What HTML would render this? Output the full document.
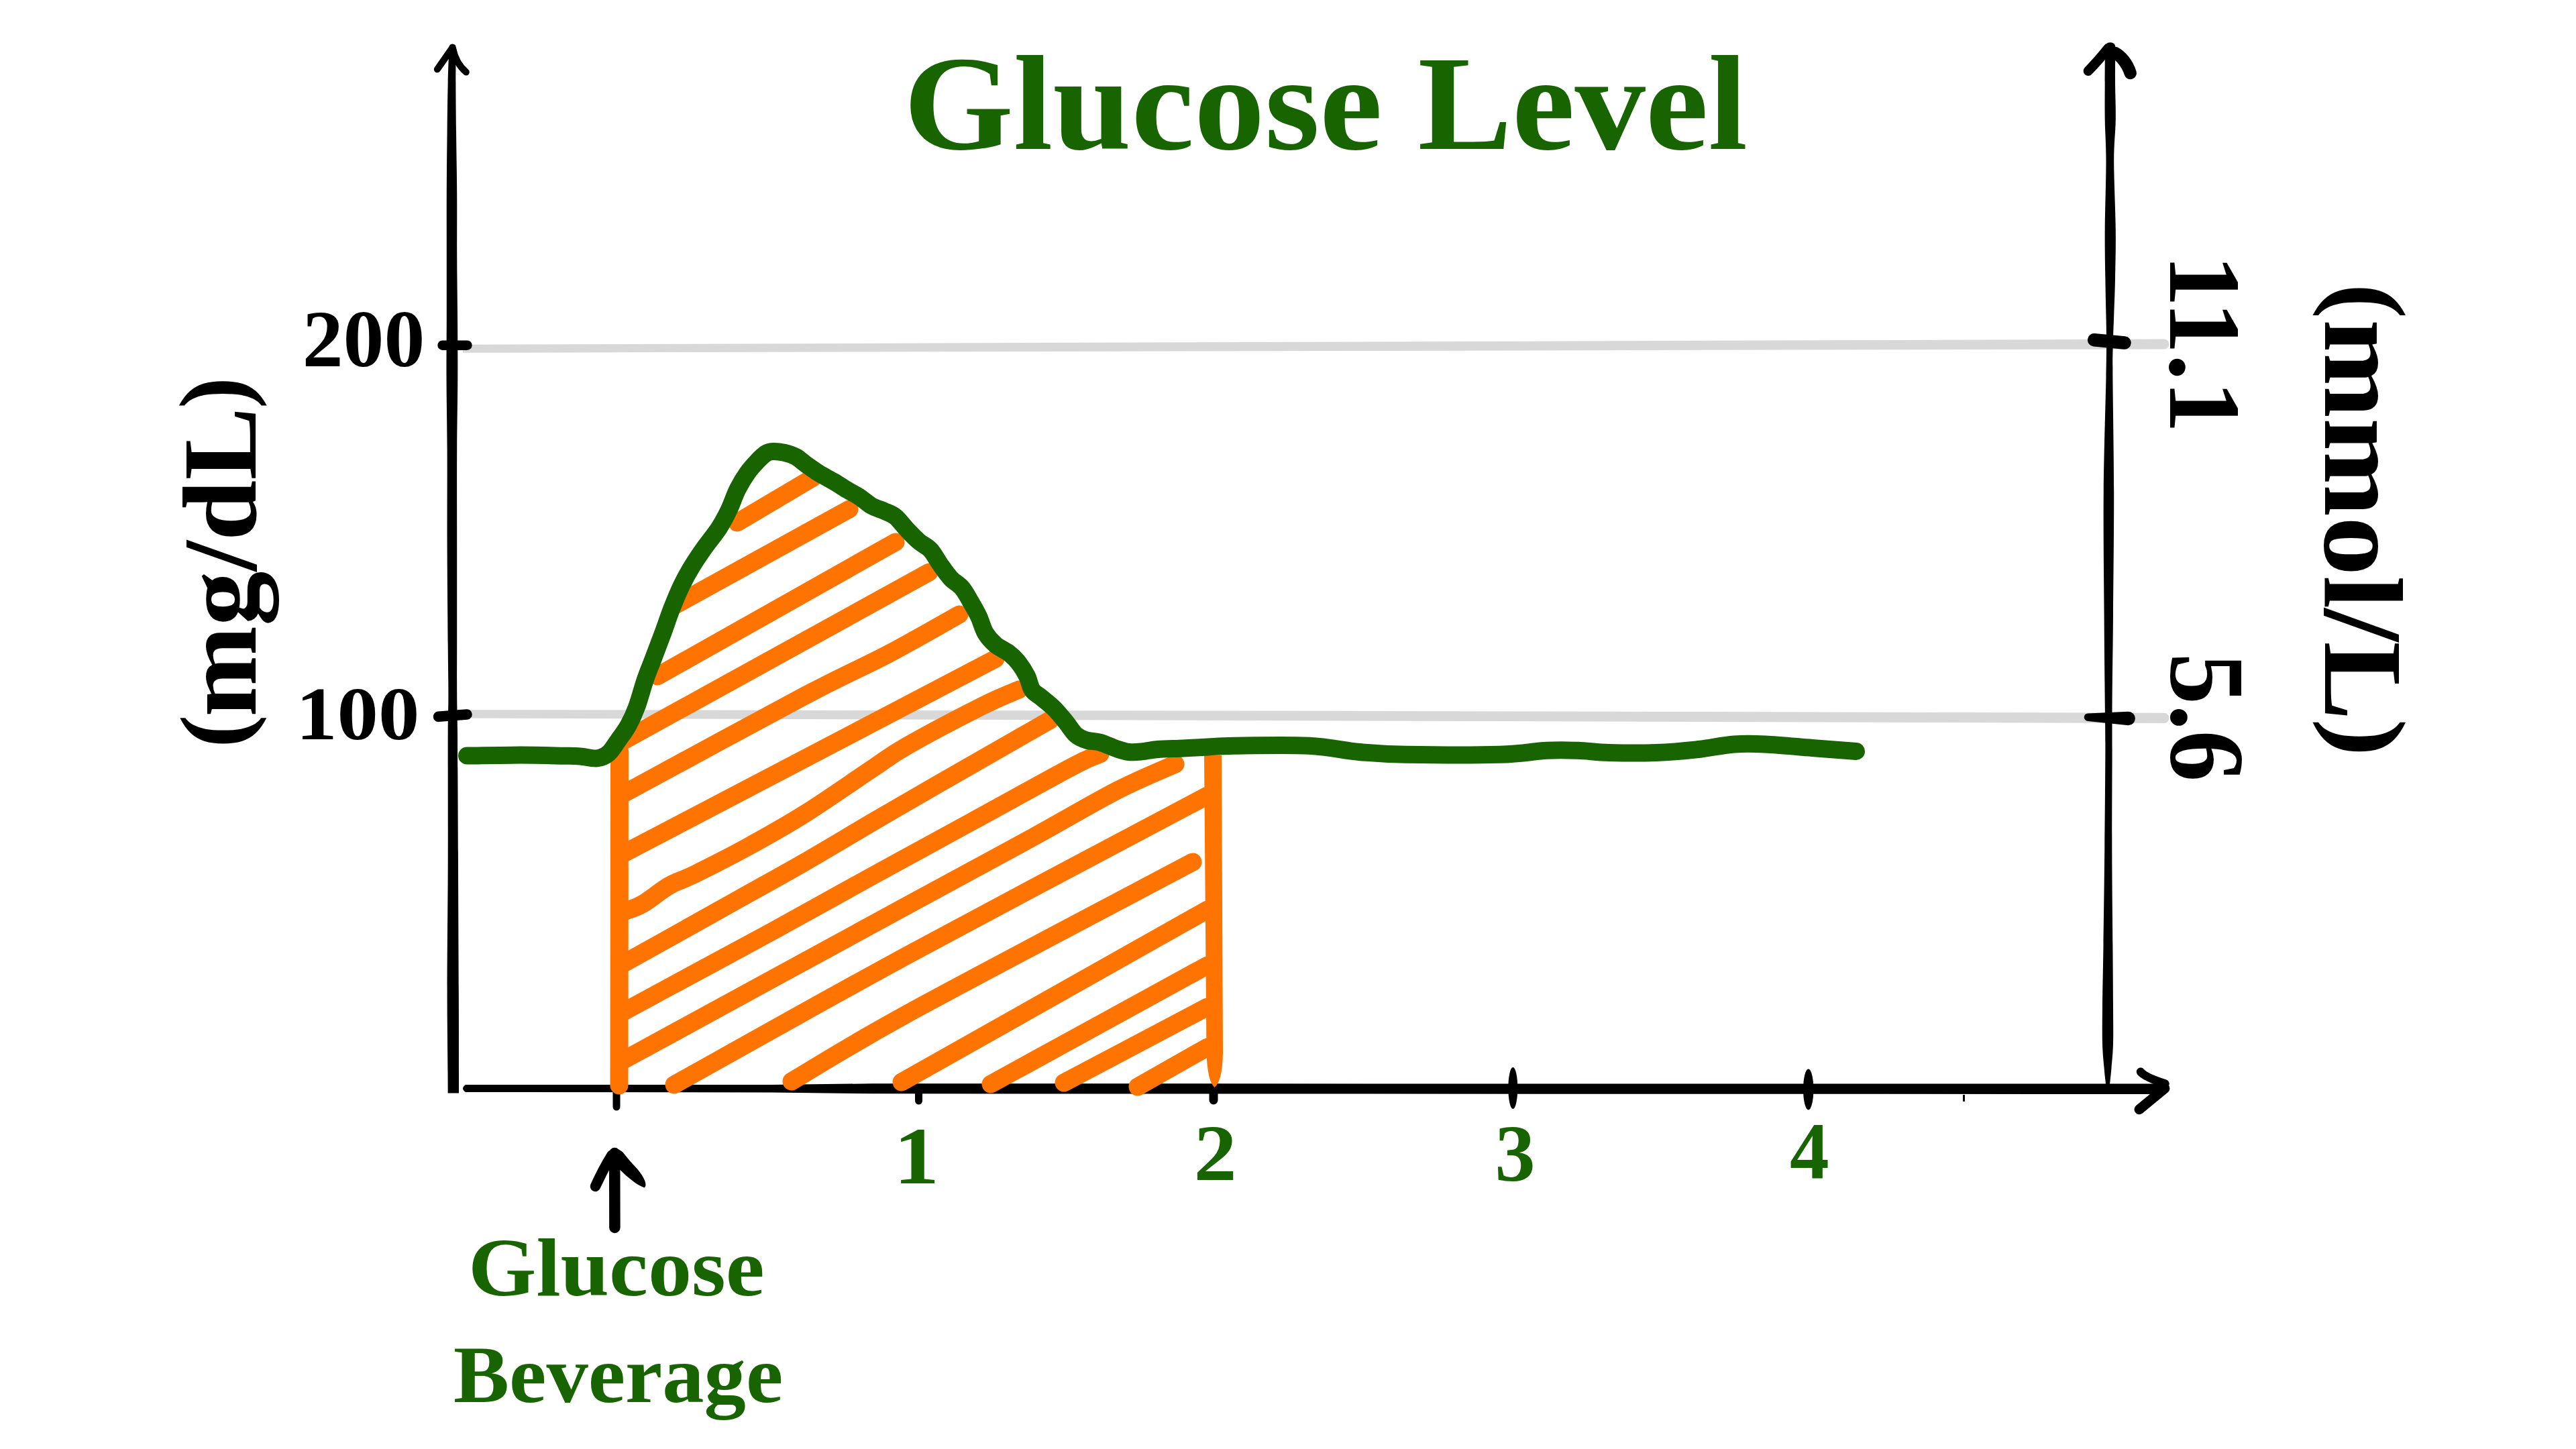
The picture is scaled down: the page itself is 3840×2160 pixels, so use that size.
<!DOCTYPE html>
<html><head><meta charset="utf-8"><title>Glucose Level</title>
<style>
html,body{margin:0;padding:0;background:#fff;}
body{width:3840px;height:2160px;overflow:hidden;}
svg{display:block;}
text{font-family:"Liberation Serif",serif;font-weight:bold;}
</style></head><body>
<svg width="3840" height="2160" viewBox="0 0 3840 2160">
<rect width="3840" height="2160" fill="#fff"/>
<path d="M690 513.8 L3226 505.6 A7.4 7.4 0 0 1 3226 520.4 L690 525.8 Z" fill="#D8D8D8"/>
<path d="M690 1058.2 L2000 1059.8 L3226 1062.7 A7.6 7.6 0 0 1 3226 1077.9 L2000 1074.4 L690 1070.6 Z" fill="#D8D8D8"/>
<path d="M679.8 72.0 C679.7 80.5 679.4 102.3 679.4 123.0 C679.4 143.7 679.7 168.5 680.0 196.0 C680.3 223.5 681.0 257.5 681.2 288.0 C681.4 318.5 681.1 348.5 681.2 379.0 C681.3 409.5 681.8 440.8 682.0 471.0 C682.2 501.2 682.4 526.8 682.3 560.0 C682.2 593.2 681.4 627.3 681.2 670.0 C681.0 712.7 681.2 767.3 681.2 816.0 C681.2 864.7 681.2 925.5 681.2 962.0 C681.2 998.5 681.1 1013.7 681.2 1035.0 C681.3 1056.3 681.8 1071.3 682.0 1090.0 C682.2 1108.7 682.1 1113.2 682.3 1147.0 C682.5 1180.8 682.8 1238.2 683.0 1293.0 C683.2 1347.8 683.6 1424.8 683.8 1476.0 C684.0 1527.2 684.0 1574.4 684.0 1600.0 C684.0 1625.6 684.0 1624.6 684.0 1629.5 L667.6 1629.5 L667.6 1629.5 C667.6 1624.6 667.7 1625.6 667.5 1600.0 C667.3 1574.4 666.6 1527.2 666.6 1476.0 C666.6 1424.8 667.5 1347.8 667.7 1293.0 C667.9 1238.2 667.7 1180.8 667.7 1147.0 C667.7 1113.2 667.6 1108.7 667.7 1090.0 C667.8 1071.3 668.4 1056.3 668.4 1035.0 C668.4 1013.7 668.0 998.5 667.7 962.0 C667.4 925.5 666.8 864.7 666.6 816.0 C666.4 767.3 666.8 712.7 666.6 670.0 C666.4 627.3 665.6 593.2 665.5 560.0 C665.4 526.8 665.8 501.2 665.8 471.0 C665.8 440.8 665.8 409.5 665.8 379.0 C665.8 348.5 665.7 318.5 665.8 288.0 C665.9 257.5 666.3 223.5 666.6 196.0 C666.9 168.5 667.2 143.7 667.7 123.0 C668.2 102.3 669.0 80.5 669.3 72.0 Q669.3 65.6 674.5 65.6 Q679.8 65.6 679.8 72 Z" fill="#000"/>
<path d="M673.8 72 L651.8 103.3" stroke="#000" stroke-width="10" stroke-linecap="round" fill="none"/>
<path d="M675.3 73 Q679.5 94 694.8 107.6" stroke="#000" stroke-width="10" stroke-linecap="round" fill="none"/>
<path d="M694 1617 L1150 1617 L1300 1615.3 L3226 1615.6 L3226 1631 L1300 1630.3 L1150 1628.5 L694 1628 Q686 1622.5 694 1617 Z" fill="#000"/>
<path d="M3191 1597.7 C3195 1603 3205 1608 3227.5 1615.5" stroke="#000" stroke-width="12.5" stroke-linecap="round" fill="none"/>
<path d="M3189 1653.7 L3227 1622.5" stroke="#000" stroke-width="15" stroke-linecap="round" fill="none"/>
<path d="M2927.5 1632 L2927.5 1642" stroke="#000" stroke-width="3"/>
<path d="M3153.4 71.0 C3153.3 79.7 3152.9 105.2 3153.0 123.0 C3153.1 140.8 3154.1 158.5 3153.8 178.0 C3153.5 197.5 3151.2 212.5 3151.2 240.0 C3151.2 267.5 3153.5 313.7 3153.8 343.0 C3154.1 372.3 3153.4 394.7 3153.0 416.0 C3152.6 437.3 3151.7 455.8 3151.2 471.0 C3150.7 486.2 3150.3 491.8 3150.0 507.0 C3149.7 522.2 3149.2 524.3 3149.4 562.0 C3149.6 599.7 3151.1 674.0 3151.2 733.0 C3151.3 792.0 3150.4 864.2 3150.0 916.0 C3149.6 967.8 3148.8 1010.5 3148.6 1044.0 C3148.4 1077.5 3148.6 1080.5 3148.6 1117.0 C3148.6 1153.5 3148.2 1214.3 3148.3 1263.0 C3148.4 1311.7 3149.1 1369.5 3149.4 1409.0 C3149.7 1448.5 3149.9 1475.5 3150.0 1500.0 C3150.1 1524.5 3150.4 1540.7 3150.0 1556.0 C3149.6 1571.3 3148.2 1583.0 3147.5 1592.0 C3146.8 1601.0 3146.2 1605.3 3145.7 1610.0 C3145.2 1614.7 3144.7 1618.3 3144.5 1620.0 L3139.5 1620 L3139.5 1620.0 C3139.3 1618.3 3138.9 1614.7 3138.4 1610.0 C3137.9 1605.3 3137.3 1601.0 3136.6 1592.0 C3135.9 1583.0 3134.4 1571.3 3134.0 1556.0 C3133.6 1540.7 3133.8 1524.5 3134.0 1500.0 C3134.2 1475.5 3134.9 1448.5 3135.5 1409.0 C3136.1 1369.5 3136.8 1311.7 3137.3 1263.0 C3137.8 1214.3 3138.3 1153.5 3138.4 1117.0 C3138.5 1080.5 3138.0 1077.5 3137.7 1044.0 C3137.4 1010.5 3136.9 967.8 3136.6 916.0 C3136.3 864.2 3135.3 792.0 3135.8 733.0 C3136.3 674.0 3138.8 599.7 3139.5 562.0 C3140.2 524.3 3140.0 522.2 3140.0 507.0 C3140.0 491.8 3139.8 486.2 3139.5 471.0 C3139.2 455.8 3138.7 437.3 3138.4 416.0 C3138.1 394.7 3137.5 372.3 3137.7 343.0 C3137.9 313.7 3139.5 267.5 3139.5 240.0 C3139.5 212.5 3138.0 197.5 3137.7 178.0 C3137.4 158.5 3137.6 140.8 3137.7 123.0 C3137.8 105.2 3137.9 79.7 3138.0 71.0 Q3138 63.2 3145.7 63.2 Q3153.4 63.2 3153.4 71 Z" fill="#000"/>
<path d="M3142.5 72 Q3130 88 3112.9 105.7" stroke="#000" stroke-width="14.5" stroke-linecap="round" fill="none"/>
<path d="M3153 79 C3161 83 3171 94 3175.7 109" stroke="#000" stroke-width="18.5" stroke-linecap="round" fill="none"/>
<g stroke="#000" stroke-linecap="round" fill="none">
<path d="M659.6 514.7 L696.4 514.7" stroke-width="14.5"/>
<path d="M653.5 1068.3 L696 1065" stroke-width="15.5"/>
<path d="M3121.7 506.7 L3167 511" stroke-width="19.5"/>
<path d="M3112.5 1063.4 L3172.7 1060.8 A10.2 10.2 0 0 1 3172.7 1081.2 L3112.5 1075 A5.8 5.8 0 0 1 3112.5 1063.4 Z" fill="#000" stroke="none"/>
<path d="M919 1628 L919 1650" stroke-width="11"/>
<path d="M1369.5 1628 L1369.5 1641" stroke-width="11"/>
<path d="M1809 1628 L1809 1640" stroke-width="13"/>
</g>
<ellipse cx="2255.3" cy="1622" rx="7" ry="31" fill="#000"/>
<ellipse cx="2695.7" cy="1624" rx="7.7" ry="30.5" fill="#000"/>
<g stroke="#FF7300" stroke-width="27" stroke-linecap="round" stroke-linejoin="round" fill="none">
<path d="M1099.0 779.0 L1212.0 712.0"/>
<path d="M1005.0 903.0 L1266.0 759.0"/>
<path d="M980.0 1008.0 L1335.0 808.0"/>
<path d="M930.0 1104.0 L1385.0 853.0"/>
<path d="M930.0 1183.0 C975.0 1158.7 1134.3 1071.7 1200.0 1037.0 C1265.7 1002.3 1285.7 995.2 1324.0 975.0 C1362.3 954.8 1412.3 925.8 1430.0 916.0"/>
<path d="M930.0 1272.0 L1484.0 982.0"/>
<path d="M930.0 1359.0 C934.7 1357.1 946.7 1354.0 958.0 1347.5 C969.3 1341.0 985.0 1327.4 998.0 1320.0 C1011.0 1312.6 1016.8 1312.5 1036.0 1303.0 C1055.2 1293.5 1086.2 1278.0 1113.5 1263.0 C1140.8 1248.0 1168.9 1232.5 1200.0 1213.0 C1231.1 1193.5 1274.7 1162.8 1300.0 1146.0 C1325.3 1129.2 1324.5 1127.7 1352.0 1112.0 C1379.5 1096.3 1437.2 1066.0 1465.0 1052.0 C1492.8 1038.0 1510.0 1032.0 1519.0 1028.0"/>
<path d="M930.0 1436.0 C941.7 1429.5 971.7 1412.8 1000.0 1397.0 C1028.3 1381.2 1066.7 1359.7 1100.0 1341.0 C1133.3 1322.3 1166.7 1304.2 1200.0 1285.0 C1233.3 1265.8 1266.7 1245.5 1300.0 1226.0 C1333.3 1206.5 1355.7 1193.5 1400.0 1168.0 C1444.3 1142.5 1538.3 1088.8 1566.0 1073.0"/>
<path d="M930.0 1508.0 C941.7 1501.7 963.3 1489.8 1000.0 1470.0 C1036.7 1450.2 1100.0 1416.3 1150.0 1389.0 C1200.0 1361.7 1250.0 1333.5 1300.0 1306.0 C1350.0 1278.5 1400.0 1251.3 1450.0 1224.0 C1500.0 1196.7 1568.3 1158.7 1600.0 1142.0 C1631.7 1125.3 1633.3 1127.0 1640.0 1124.0"/>
<path d="M930.0 1580.0 C1001.7 1540.9 1258.3 1400.9 1360.0 1345.6 C1461.7 1290.3 1489.3 1275.8 1540.0 1248.0 C1590.7 1220.2 1628.7 1197.2 1664.0 1179.0 C1699.3 1160.8 1737.3 1145.7 1752.0 1139.0"/>
<path d="M1005.0 1617.0 C1064.2 1584.2 1227.5 1491.8 1360.0 1420.0 C1492.5 1348.2 1726.7 1225.0 1800.0 1186.0"/>
<path d="M1180.0 1612.0 C1210.0 1594.5 1260.3 1561.5 1360.0 1507.0 C1459.7 1452.5 1708.3 1322.0 1778.0 1285.0"/>
<path d="M1344.0 1613.0 L1800.0 1356.0"/>
<path d="M1477.0 1616.0 L1800.0 1439.0"/>
<path d="M1586.0 1614.0 L1800.0 1501.0"/>
<path d="M1696.0 1620.0 L1800.0 1561.0"/>
<path d="M923.5 1120 L923 1618"/>
</g>
<path d="M1795 1126 L1821 1126 L1823 1570 Q1822 1612 1810.5 1621 Q1800 1612 1798.5 1570 Z" fill="#FF7300"/>
<path d="M696.0 1126.5 C709.3 1126.3 752.0 1125.6 776.0 1125.6 C800.0 1125.6 825.2 1126.4 840.0 1126.7 C854.8 1127.0 856.5 1126.9 864.8 1127.5 C873.1 1128.1 882.7 1131.2 889.7 1130.4 C896.7 1129.7 901.6 1127.6 907.0 1123.0 C912.4 1118.4 917.0 1110.0 922.0 1103.0 C927.0 1096.0 932.5 1089.0 937.0 1080.7 C941.5 1072.4 945.2 1064.6 949.3 1053.4 C953.4 1042.2 957.6 1025.7 961.7 1013.7 C965.8 1001.7 969.5 993.4 974.0 981.4 C978.5 969.4 984.4 954.0 989.0 941.6 C993.6 929.2 996.9 918.4 1001.5 906.8 C1006.1 895.2 1011.4 882.4 1016.4 872.0 C1021.4 861.6 1025.9 853.6 1031.3 844.7 C1036.7 835.8 1041.9 828.2 1048.7 818.5 C1055.5 808.8 1065.8 796.5 1072.2 786.6 C1078.6 776.7 1082.5 768.8 1087.0 759.3 C1091.5 749.8 1094.9 738.5 1099.5 729.4 C1104.1 720.3 1109.4 711.6 1114.4 704.6 C1119.4 697.6 1124.8 692.0 1129.3 687.2 C1133.8 682.4 1138.0 678.4 1141.7 676.0 C1145.4 673.6 1147.2 673.2 1151.7 673.0 C1156.2 672.8 1163.2 673.5 1169.0 674.8 C1174.8 676.1 1181.1 678.1 1186.5 681.0 C1191.9 683.9 1195.6 688.1 1201.4 692.2 C1207.2 696.3 1214.2 701.4 1221.2 705.8 C1228.2 710.1 1236.5 714.1 1243.6 718.3 C1250.6 722.4 1257.3 727.0 1263.5 730.7 C1269.7 734.4 1274.9 736.7 1280.9 740.6 C1286.9 744.5 1293.3 750.8 1299.5 754.3 C1305.7 757.8 1312.1 759.0 1318.0 761.7 C1323.9 764.4 1329.3 765.8 1335.0 770.5 C1340.7 775.2 1346.5 783.7 1352.3 789.8 C1358.1 795.9 1363.9 802.0 1369.7 807.0 C1375.5 812.0 1381.6 813.8 1387.0 819.6 C1392.4 825.4 1397.0 835.0 1402.0 842.0 C1407.0 849.0 1411.6 856.0 1417.0 861.8 C1422.4 867.6 1429.3 870.9 1434.3 876.7 C1439.2 882.5 1442.6 889.6 1446.7 896.6 C1450.8 903.6 1455.3 911.1 1459.0 919.0 C1462.7 926.9 1464.8 936.8 1469.0 943.8 C1473.2 950.8 1478.2 956.2 1484.0 961.2 C1489.8 966.2 1498.1 969.1 1503.9 973.6 C1509.7 978.1 1514.2 982.7 1518.8 988.5 C1523.3 994.3 1527.9 1001.8 1531.2 1008.4 C1534.5 1015.0 1534.9 1022.9 1538.6 1028.3 C1542.3 1033.7 1548.1 1036.2 1553.5 1040.7 C1558.9 1045.2 1565.2 1049.8 1571.0 1055.6 C1576.8 1061.4 1582.8 1068.8 1588.3 1075.5 C1593.8 1082.2 1598.7 1090.8 1604.0 1095.5 C1609.3 1100.2 1614.0 1101.6 1620.0 1103.5 C1626.0 1105.4 1632.7 1104.6 1640.0 1106.7 C1647.3 1108.8 1656.8 1113.6 1664.0 1116.0 C1671.2 1118.4 1676.7 1120.3 1683.0 1121.0 C1689.3 1121.7 1694.8 1121.1 1702.0 1120.4 C1709.2 1119.7 1715.7 1117.8 1726.0 1117.0 C1736.3 1116.2 1751.1 1116.0 1763.6 1115.4 C1776.1 1114.8 1788.3 1114.1 1801.0 1113.5 C1813.7 1112.9 1814.6 1112.1 1839.7 1111.8 C1864.8 1111.5 1920.5 1110.3 1951.5 1111.8 C1982.5 1113.3 2001.9 1118.8 2026.0 1121.0 C2050.1 1123.2 2061.1 1124.2 2096.0 1124.8 C2130.9 1125.4 2200.8 1125.8 2235.7 1124.8 C2270.6 1123.8 2286.2 1119.8 2305.6 1118.8 C2325.0 1117.8 2336.5 1118.3 2352.0 1118.8 C2367.5 1119.3 2379.3 1121.5 2398.7 1122.0 C2418.1 1122.5 2446.9 1122.8 2468.6 1122.0 C2490.3 1121.2 2509.6 1119.5 2529.0 1117.4 C2548.4 1115.3 2567.9 1110.8 2585.0 1109.5 C2602.1 1108.2 2612.3 1108.6 2631.7 1109.5 C2651.1 1110.4 2678.9 1113.2 2701.5 1115.0 C2724.1 1116.8 2756.1 1119.2 2767.0 1120.0" stroke="#186400" stroke-width="26" stroke-linecap="round" stroke-linejoin="round" fill="none"/>
<path d="M916.2 1719 L916.4 1830" stroke="#000" stroke-width="16.5" stroke-linecap="round" fill="none"/>
<path d="M912 1722 Q898 1745 887.5 1768.4" stroke="#000" stroke-width="15.5" stroke-linecap="round" fill="none"/>
<path d="M910 1716 Q917 1708 928.3 1717.6 L939.4 1730.9 L950.4 1743 Q958 1752 961.5 1760.7 Q964 1768 960.4 1770.6 Q950 1766 944.9 1761.8 L933.9 1753 L922.3 1741.9 Z" fill="#000"/>
<text x="1346.9" y="222.0" font-size="202.03" fill="#186400" textLength="1258.1" lengthAdjust="spacingAndGlyphs" text-anchor="start">Glucose Level</text>
<text x="450.7" y="546.0" font-size="120.08" fill="#000" textLength="182.6" lengthAdjust="spacingAndGlyphs" text-anchor="start">200</text>
<text x="441.2" y="1102.1" font-size="113.04" fill="#000" textLength="184.2" lengthAdjust="spacingAndGlyphs" text-anchor="start">100</text>
<text x="3235.0" y="378.9" font-size="153.01" fill="#000" textLength="266.8" lengthAdjust="spacingAndGlyphs" text-anchor="start" transform="rotate(90 3235.0 378.9)">11.1</text>
<text x="3237.1" y="973.6" font-size="158.83" fill="#000" textLength="191.7" lengthAdjust="spacingAndGlyphs" text-anchor="start" transform="rotate(90 3237.1 973.6)">5.6</text>
<text x="1332.3" y="1763.8" font-size="119.72" fill="#186400" textLength="67.9" lengthAdjust="spacingAndGlyphs" text-anchor="start">1</text>
<text x="1779.6" y="1759.0" font-size="118.5" fill="#186400" textLength="64.2" lengthAdjust="spacingAndGlyphs" text-anchor="start">2</text>
<text x="2228.4" y="1760.0" font-size="120.0" fill="#186400" textLength="60.1" lengthAdjust="spacingAndGlyphs" text-anchor="start">3</text>
<text x="2667.9" y="1757.4" font-size="119.72" fill="#186400" textLength="58.7" lengthAdjust="spacingAndGlyphs" text-anchor="start">4</text>
<text x="698.0" y="1931.4" font-size="123.37" fill="#186400" textLength="441.7" lengthAdjust="spacingAndGlyphs" text-anchor="start">Glucose</text>
<text x="676.0" y="2089.5" font-size="121" fill="#186400" textLength="491.2" lengthAdjust="spacingAndGlyphs" text-anchor="start">Beverage</text>
<text x="367.5" y="1114.9" font-size="142.02" fill="#000" textLength="49.6" lengthAdjust="spacingAndGlyphs" text-anchor="start" transform="rotate(-90 367.5 1114.9)">(</text>
<text x="381.0" y="1068.7" font-size="157" fill="#000" textLength="461.8" lengthAdjust="spacingAndGlyphs" text-anchor="start" transform="rotate(-90 381.0 1068.7)">mg/dL</text>
<text x="367.3" y="609.0" font-size="143.11" fill="#000" textLength="47.0" lengthAdjust="spacingAndGlyphs" text-anchor="start" transform="rotate(-90 367.3 609.0)">)</text>
<text x="3480.1" y="422.6" font-size="152.76" fill="#000" textLength="52.6" lengthAdjust="spacingAndGlyphs" text-anchor="start" transform="rotate(90 3480.1 422.6)">(</text>
<text x="3466.0" y="475.9" font-size="167" fill="#000" textLength="598.2" lengthAdjust="spacingAndGlyphs" text-anchor="start" transform="rotate(90 3466.0 475.9)">mmol/L</text>
<text x="3480.1" y="1071.3" font-size="152.76" fill="#000" textLength="56.6" lengthAdjust="spacingAndGlyphs" text-anchor="start" transform="rotate(90 3480.1 1071.3)">)</text>
</svg>
</body></html>
